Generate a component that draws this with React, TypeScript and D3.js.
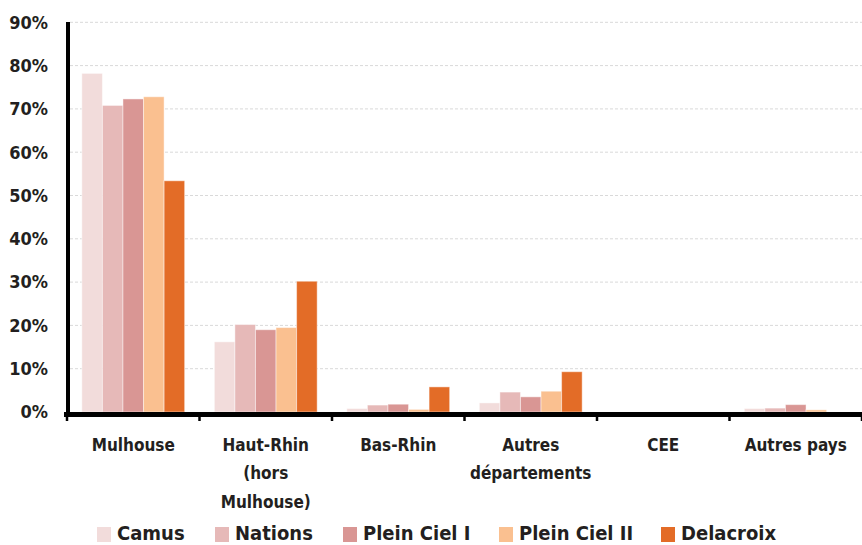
import React from "react";
import * as d3 from "d3";

const categories: string[][] = [
  ["Mulhouse"],
  ["Haut-Rhin", "(hors", "Mulhouse)"],
  ["Bas-Rhin"],
  ["Autres", "départements"],
  ["CEE"],
  ["Autres pays"],
];
const seriesNames = ["Camus", "Nations", "Plein Ciel I", "Plein Ciel II", "Delacroix"];
const seriesColors = ["#F2DCDB", "#E6B9B8", "#D99694", "#FAC090", "#E36C27"];

// Share of each origin, in percent, per series
const camus = [78.2, 16.2, 0.8, 2.1, 0, 0.8];
const nations = [70.8, 20.2, 1.6, 4.6, 0, 0.9];
const pleinCiel1 = [72.3, 19.0, 1.8, 3.5, 0, 1.7];
const pleinCiel2 = [72.8, 19.5, 0.6, 4.8, 0, 0.5];
const delacroix = [53.4, 30.2, 5.8, 9.3, 0, 0];
const yTicks = [0, 10, 20, 30, 40, 50, 60, 70, 80, 90];

const W = 862;
const H = 545;
const FONT = "'Liberation Sans Narrow', 'DejaVu Sans Condensed', 'Roboto', sans-serif";
const INK = "#231f20";

export default function App() {
  const series = [camus, nations, pleinCiel1, pleinCiel2, delacroix];
  const plotLeft = 67;
  const plotRight = 862;
  const y = d3.scaleLinear().domain([0, 90]).range([412, 22.3]);
  const keys = categories.map((c) => c.join(" "));
  const x0 = d3
    .scaleBand<string>()
    .domain(keys)
    .range([plotLeft, plotRight])
    .paddingInner(0.224)
    .paddingOuter(0.112);
  const x1 = d3
    .scaleBand<string>()
    .domain(seriesNames)
    .range([0, x0.bandwidth()]);
  const step = x0.step();
  const tickXs = d3.range(categories.length + 1).map((i) => plotLeft + i * step);

  const legendX = [97, 215, 343, 499, 661];

  return (
    <svg width={W} height={H} style={{ position: "absolute", left: 0, top: 0 }}>
      <rect width={W} height={H} fill="#fff" />
      {/* gridlines */}
      {yTicks.slice(1).map((t) => (
        <line
          key={t}
          x1={70}
          x2={plotRight}
          y1={y(t)}
          y2={y(t)}
          stroke="#d9d9d9"
          strokeWidth={1}
          strokeDasharray="3,2"
        />
      ))}
      {/* bars */}
      {keys.map((k, ci) => (
        <g key={k} transform={`translate(${x0(k)},0)`}>
          {seriesNames.map((s, si) => {
            const v = series[si][ci];
            if (v <= 0) return null;
            return (
              <rect
                key={s}
                x={x1(s)}
                y={y(v)}
                width={x1.bandwidth()}
                height={y(0) - y(v)}
                fill={seriesColors[si]}
                stroke="#ffffff"
                strokeOpacity={0.45}
                strokeWidth={1}
              />
            );
          })}
        </g>
      ))}
      {/* axes */}
      <line x1={68} x2={68} y1={22} y2={416} stroke="#000" strokeWidth={4} />
      <line x1={64} x2={plotRight} y1={414.5} y2={414.5} stroke="#000" strokeWidth={5} />
      {tickXs.map((tx, i) => (
        <line key={i} x1={tx} x2={tx} y1={414} y2={421} stroke="#000" strokeWidth={2.5} />
      ))}
      {/* y labels */}
      {yTicks.map((t) => (
        <text
          key={t}
          x={48}
          y={y(t)}
          dy="0.35em"
          textAnchor="end"
          fontFamily={FONT}
          fontWeight="bold"
          fontSize={18}
          fill={INK}
        >
          {t}%
        </text>
      ))}
      {/* x labels */}
      {categories.map((lines, ci) => (
        <text
          key={ci}
          x={(x0(keys[ci]) as number) + x0.bandwidth() / 2}
          y={451}
          textAnchor="middle"
          fontFamily={FONT}
          fontWeight="bold"
          fontSize={17}
          fill={INK}
        >
          {lines.map((l, li) => (
            <tspan key={li} x={(x0(keys[ci]) as number) + x0.bandwidth() / 2} y={451 + li * 28.3}>
              {l}
            </tspan>
          ))}
        </text>
      ))}
      {/* legend */}
      {seriesNames.map((s, si) => (
        <g key={s}>
          <rect x={legendX[si]} y={527} width={14} height={15} fill={seriesColors[si]} />
          <text
            x={legendX[si] + 20}
            y={540}
            fontFamily={FONT}
            fontWeight="bold"
            fontSize={20}
            fill={INK}
          >
            {s}
          </text>
        </g>
      ))}
    </svg>
  );
}
